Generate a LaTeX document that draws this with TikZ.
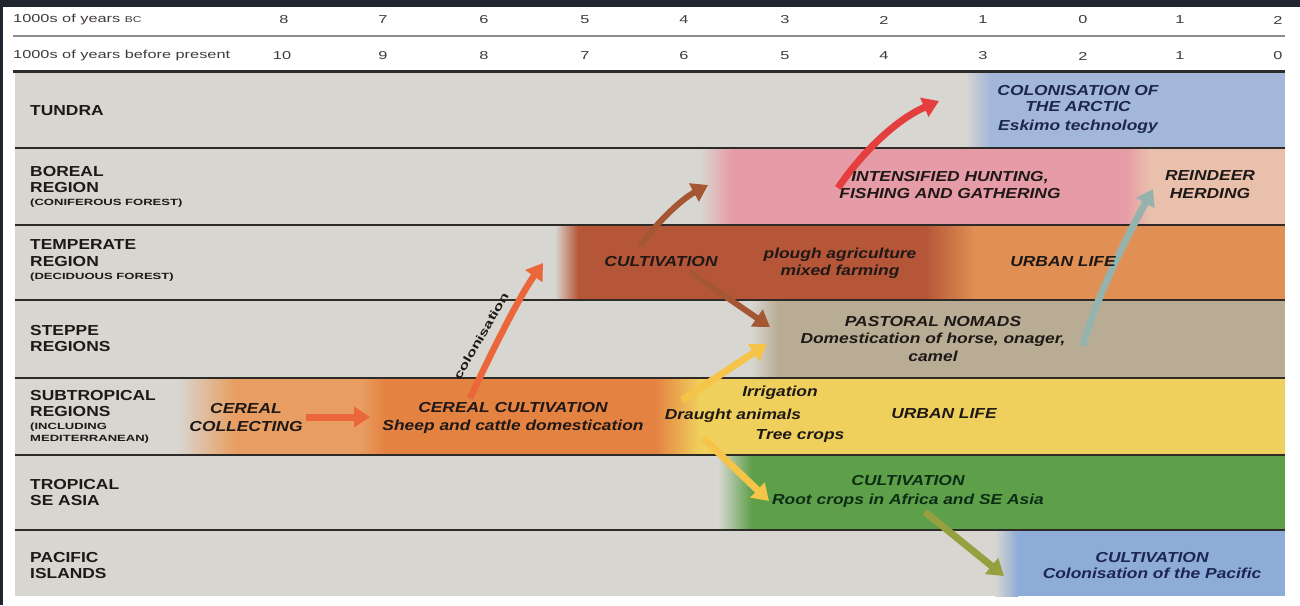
\documentclass[tikz,border=0pt]{standalone}
\usepackage{fontspec}
\setmainfont{Liberation Sans}
\newfontfamily\hdrfont[FakeStretch=1.42]{Liberation Sans}
\newfontfamily\labfont[FakeStretch=1.2]{Liberation Sans}
\newfontfamily\smlfont[FakeStretch=1.45]{Liberation Sans}
\newcommand\labsmall{\smlfont\bfseries\fontsize{9}{11}\selectfont}
\usetikzlibrary{arrows.meta}
\definecolor{frame}{HTML}{1F2630}
\definecolor{bggray}{RGB}{216,214,208}
\definecolor{arcblue}{RGB}{163,183,218}
\definecolor{borpink}{RGB}{230,156,166}
\definecolor{borpeach}{RGB}{232,192,172}
\definecolor{tembrown}{RGB}{182,86,56}
\definecolor{temorange}{RGB}{224,144,84}
\definecolor{stekhaki}{RGB}{184,172,148}
\definecolor{subltorange}{RGB}{232,158,98}
\definecolor{suborange}{RGB}{228,130,66}
\definecolor{subyellow}{RGB}{240,208,92}
\definecolor{trogreen}{RGB}{94,160,74}
\definecolor{pacblue}{RGB}{142,172,216}
\definecolor{inkdark}{RGB}{30,24,22}
\definecolor{inknavy}{RGB}{28,38,80}
\definecolor{inkgreen}{RGB}{12,45,20}
\definecolor{sepcol}{RGB}{45,42,40}
\definecolor{arrRedOr}{RGB}{236,102,60}
\definecolor{arrBrown}{RGB}{165,86,50}
\definecolor{arrRed}{RGB}{228,62,62}
\definecolor{arrGray}{RGB}{150,178,172}
\definecolor{arrYellow}{RGB}{246,196,72}
\definecolor{arrOlive}{RGB}{150,160,62}
\begin{document}
\begin{tikzpicture}[x=1pt,y=-1pt,
  hdr/.style={font=\hdrfont\fontsize{11.5}{13}\selectfont, text=inkdark!85, inner sep=0},
  lab/.style={font=\labfont\bfseries\fontsize{14.5}{16.5}\selectfont, text=inkdark, align=left, anchor=north west, inner sep=0},
  itl/.style={font=\labfont\bfseries\itshape\fontsize{14.5}{17}\selectfont, text=inkdark, align=center, inner sep=0},
  sepline/.style={line width=2pt, draw=sepcol},
  fatarrow/.style={line width=7pt, -{Triangle[length=16pt,width=20pt]}},
]
\useasboundingbox (0,0) rectangle (1300,605);
% page
\fill[white] (0,0) rectangle (1300,605);
\fill[frame] (0,0) rectangle (1300,7);
\fill[frame] (0,0) rectangle (3,605);
% panel base
\fill[bggray] (15,72) rectangle (1285,596);
% tundra
\shade[left color=bggray,right color=arcblue] (965,72) rectangle (990,148);
\fill[arcblue] (990,72) rectangle (1285,148);
% boreal
\shade[left color=bggray,right color=borpink] (700,148) rectangle (732,225);
\fill[borpink] (732,148) rectangle (1125,225);
\shade[left color=borpink,right color=borpeach] (1125,148) rectangle (1150,225);
\fill[borpeach] (1150,148) rectangle (1285,225);
% temperate
\shade[left color=bggray,right color=tembrown] (555,225) rectangle (578,300);
\fill[tembrown] (578,225) rectangle (925,300);
\shade[left color=tembrown,right color=temorange] (925,225) rectangle (975,300);
\fill[temorange] (975,225) rectangle (1285,300);
% steppe
\shade[left color=bggray,right color=stekhaki] (752,300) rectangle (778,378);
\fill[stekhaki] (778,300) rectangle (1285,378);
% subtropical
\shade[left color=bggray,right color=subltorange] (178,378) rectangle (235,455);
\fill[subltorange] (235,378) rectangle (360,455);
\shade[left color=subltorange,right color=suborange] (360,378) rectangle (385,455);
\fill[suborange] (385,378) rectangle (655,455);
\shade[left color=suborange,right color=subyellow] (655,378) rectangle (700,455);
\fill[subyellow] (700,378) rectangle (1285,455);
% tropical
\shade[left color=bggray,right color=trogreen] (718,455) rectangle (752,530);
\fill[trogreen] (752,455) rectangle (1285,530);
% pacific
\shade[left color=bggray,right color=pacblue] (995,530) rectangle (1018,596);
\fill[pacblue] (1018,530) rectangle (1285,596);
% lines
\draw[line width=1.2pt, draw=black!45] (13,36) -- (1285,36);
\draw[line width=3pt, draw=sepcol] (13,71) -- (1285,71);
\foreach \yy in {148,225,300,378,455,530} \draw[sepline] (15,\yy) -- (1285,\yy);
% header
\node[hdr, anchor=west] (hbc) at (13,20) {1000s of years {\fontsize{8.5}{10}\selectfont BC}};
\node[hdr, anchor=west] (hbp) at (13,56) {1000s of years before present};
\foreach \xx/\v [count=\i] in {284/8,383/7,484/6,585/5,684/4,785/3,884/2,983/1,1083/0,1180/1,1278/2}
  \node[hdr] (bc\i) at (\xx,20) {\v};
\foreach \xx/\v [count=\i] in {282/10,383/9,484/8,585/7,684/6,785/5,884/4,983/3,1083/2,1180/1,1278/0}
  \node[hdr] (bp\i) at (\xx,56) {\v};
% arrow end points
\coordinate (a1s) at (306,417); \coordinate (a1e) at (370,417);
\coordinate (a2s) at (470,398); \coordinate (a2e) at (543,263);
\coordinate (a3s) at (640,246); \coordinate (a3e) at (708,185);
\coordinate (a4s) at (690,272); \coordinate (a4e) at (770,327);
\coordinate (a5s) at (838,188); \coordinate (a5e) at (939,101);
\coordinate (a6s) at (1083,346); \coordinate (a6e) at (1153,189);
\coordinate (a7s) at (682,400); \coordinate (a7e) at (767,344);
\coordinate (a8s) at (703,438); \coordinate (a8e) at (769,501);
\coordinate (a9s) at (925,512); \coordinate (a9e) at (1004,576);
% arrows
\draw[fatarrow, arrRedOr] (a1s) -- (a1e);
\draw[fatarrow, arrRedOr, line width=6.5pt] (a2s) .. controls (487,362) and (517,300) .. (a2e);
\draw[fatarrow, arrBrown, line width=6pt] (a3s) .. controls (655,225) and (680,200) .. (a3e);
\draw[fatarrow, arrBrown, line width=6pt] (a4s) -- (a4e);
\draw[fatarrow, arrRed] (a5s) .. controls (860,155) and (895,120) .. (a5e);
\draw[fatarrow, arrGray] (a6s) .. controls (1095,300) and (1125,240) .. (a6e);
\draw[fatarrow, arrYellow] (a7s) -- (a7e);
\draw[fatarrow, arrYellow] (a8s) -- (a8e);
\draw[fatarrow, arrOlive] (a9s) -- (a9e);
% band labels
\node[lab] (ltun) at (30,105.8) {TUNDRA};
\node[lab] (lbor) at (30,165.8) {BOREAL\\REGION\\[-3.5pt]{\labsmall (CONIFEROUS FOREST)}};
\node[lab] (ltem) at (30,239.8) {TEMPERATE\\REGION\\[-3.5pt]{\labsmall (DECIDUOUS FOREST)}};
\node[lab] (lste) at (30,324.8) {STEPPE\\REGIONS};
\node[lab] (lsub) at (30,389.8) {SUBTROPICAL\\REGIONS\\[-4pt]{\labsmall (INCLUDING}\\[-4pt]{\labsmall MEDITERRANEAN)}};
\node[lab] (ltro) at (30,478.8) {TROPICAL\\SE ASIA};
\node[lab] (lpac) at (30,551.8) {PACIFIC\\ISLANDS};
% content texts
\node[itl, anchor=north, text=inknavy, font=\labfont\bfseries\itshape\fontsize{14.5}{16}\selectfont] (arctic) at (1078,84.8) {COLONISATION OF\\THE ARCTIC\\[3pt]Eskimo technology};
\node[itl, anchor=north] (hunt) at (950,170.8) {INTENSIFIED HUNTING,\\FISHING AND GATHERING};
\node[itl, anchor=north, font=\labfont\bfseries\itshape\fontsize{14.5}{18}\selectfont] (rein) at (1210,170.8) {REINDEER\\HERDING};
\node[itl] (tcult) at (661,262) {CULTIVATION};
\node[itl] (plough) at (840,263.5) {plough agriculture\\mixed farming};
\node[itl] (turban) at (1063,262) {URBAN LIFE};
\node[itl, anchor=north, font=\labfont\bfseries\itshape\fontsize{14.5}{17.5}\selectfont] (past) at (933,315.8) {PASTORAL NOMADS\\Domestication of horse, onager,\\camel};
\node[itl, anchor=north, font=\labfont\bfseries\itshape\fontsize{14.5}{18}\selectfont] (ccoll) at (246,402.8) {CEREAL\\COLLECTING};
\node[itl, anchor=north, font=\labfont\bfseries\itshape\fontsize{14.5}{18}\selectfont] (ccult) at (513,401.8) {CEREAL CULTIVATION\\Sheep and cattle domestication};
\node[itl] (irr) at (780,393) {Irrigation};
\node[itl] (draught) at (733,416) {Draught animals};
\node[itl] (tree) at (800,436) {Tree crops};
\node[itl] (surban) at (944,414) {URBAN LIFE};
\node[itl, anchor=north, text=inkgreen, font=\labfont\bfseries\itshape\fontsize{14.5}{19}\selectfont] (trop) at (908,474.8) {CULTIVATION\\Root crops in Africa and SE Asia};
\node[itl, anchor=north, text=inknavy, font=\labfont\bfseries\itshape\fontsize{14.5}{16}\selectfont] (pac) at (1152,551.8) {CULTIVATION\\Colonisation of the Pacific};
\node[inner sep=0, font=\smlfont\bfseries\fontsize{11.5}{14}\selectfont, text=inkdark, rotate=60] (coltxt) at (481,336) {colonisation};
\end{tikzpicture}
\end{document}
